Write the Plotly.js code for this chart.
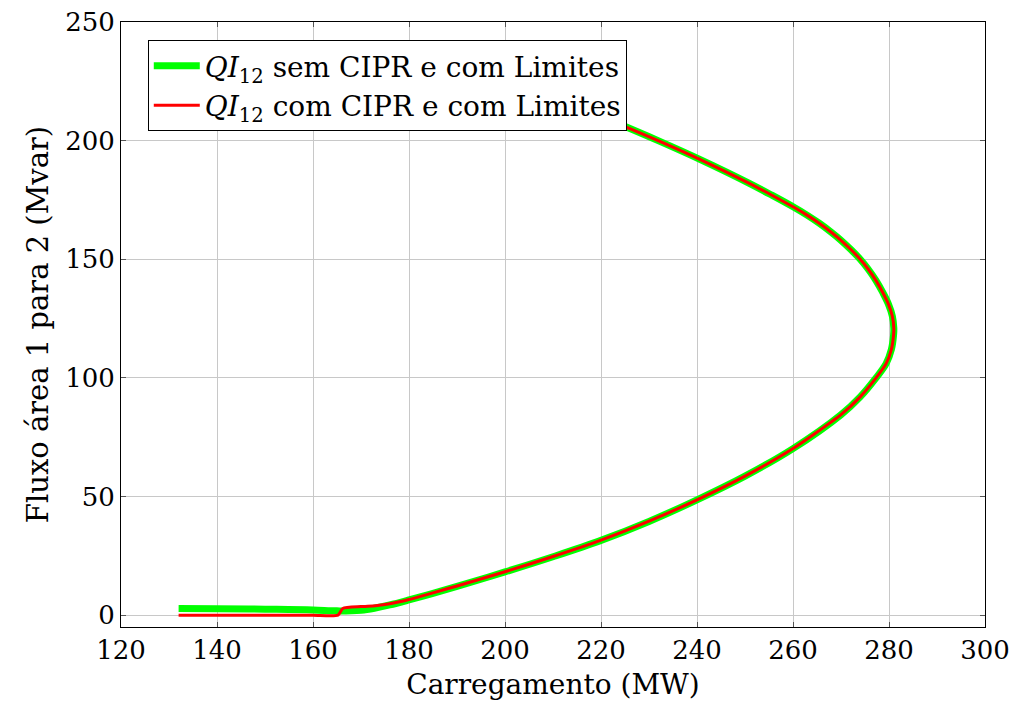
<!DOCTYPE html>
<html>
<head>
<meta charset="utf-8">
<script src="https://cdn.plot.ly/plotly-3.0.1.min.js"></script>
<style>
  html, body { margin: 0; padding: 0; background: #fff; }
  #chart { width: 1014px; height: 709px; }
</style>
</head>
<body>
<div id="chart"></div>
<script>
// Reactive power flow from area 1 to area 2 versus system loading
const semCiprX = [132, 140, 150, 160, 165, 170, 173, 176, 180, 185, 190, 200, 210, 220, 230, 240, 250, 260, 270, 274, 277.3, 279.4, 280.5, 280.95, 281, 280.7, 279.9, 278.7, 277.3, 275.6, 274, 272.1, 270, 267.9, 265.6, 263, 260.1, 255.6, 250.9, 240.7, 231.9, 223.8, 215.4, 205.5];
const semCiprY = [2.8, 2.7, 2.5, 2.2, 1.8, 2.1, 3.0, 4.3, 6.4, 9.2, 12.1, 18.2, 24.6, 31.5, 39.5, 48.6, 58.6, 70.2, 84.5, 92, 100, 106, 112, 118, 121, 126, 131, 136, 141, 146, 150, 154, 158, 161.5, 165, 168.5, 172, 177, 182, 192, 200, 207, 214, 222];

const comCiprX = [132, 140, 150, 160, 165.2, 166.2, 170, 173, 176, 180, 185, 190, 200, 210, 220, 230, 240, 250, 260, 270, 274, 277.3, 279.4, 280.5, 280.95, 281, 280.7, 279.9, 278.7, 277.3, 275.6, 274, 272.1, 270, 267.9, 265.6, 263, 260.1, 255.6, 250.9, 240.7, 231.9, 223.8, 215.4, 205.5];
const comCiprY = [0, 0, 0, 0, 0, 2.8, 3.6, 4.0, 4.8, 6.6, 9.4, 12.3, 18.3, 24.7, 31.6, 39.6, 48.6, 58.6, 70.2, 84.5, 92, 100, 106, 112, 118, 121, 126, 131, 136, 141, 146, 150, 154, 158, 161.5, 165, 168.5, 172, 177, 182, 192, 200, 207, 214, 222];

const xTicks = [120, 140, 160, 180, 200, 220, 240, 260, 280, 300];
const yTicks = [0, 50, 100, 150, 200, 250];

const serif = 'DejaVu Serif, Liberation Serif, serif';

const traces = [
  {
    x: semCiprX, y: semCiprY, type: 'scatter', mode: 'lines',
    name: '<i>QI</i><sub>12</sub> sem CIPR e com Limites',
    line: { color: '#00ff00', width: 7, shape: 'spline', smoothing: 1 }
  },
  {
    x: comCiprX, y: comCiprY, type: 'scatter', mode: 'lines',
    name: '<i>QI</i><sub>12</sub> com CIPR e com Limites',
    line: { color: '#ff0000', width: 3, shape: 'spline', smoothing: 0.6 }
  }
];

const axisCommon = {
  showline: true, linecolor: '#000', linewidth: 1, mirror: 'ticks',
  ticks: 'inside', ticklen: 5, tickcolor: '#555', tickwidth: 1,
  showgrid: true, gridcolor: '#c8c8c8', gridwidth: 1,
  zeroline: false,
  tickfont: { family: serif, size: 26, color: '#000' }
};

const layout = {
  width: 1014, height: 709,
  margin: { l: 121, r: 29, t: 22, b: 82 },
  paper_bgcolor: '#fff', plot_bgcolor: '#fff',
  font: { family: serif, color: '#000' },
  showlegend: true,
  xaxis: Object.assign({}, axisCommon, {
    range: [120, 300], tickvals: xTicks, ticktext: xTicks.map(String),
    title: { text: 'Carregamento (MW)', font: { family: serif, size: 28, color: '#000' }, standoff: 10 }
  }),
  yaxis: Object.assign({}, axisCommon, {
    range: [-5, 250], tickvals: yTicks, ticktext: yTicks.map(String),
    title: { text: 'Fluxo área 1 para 2 (Mvar)', font: { family: serif, size: 29, color: '#000' }, standoff: 8 }
  }),
  legend: {
    x: 0.031, y: 0.97, xanchor: 'left', yanchor: 'top',
    bgcolor: '#fff', bordercolor: '#000', borderwidth: 1,
    font: { family: serif, size: 28, color: '#000' },
    itemwidth: 46, tracegroupgap: 0
  }
};

Plotly.newPlot('chart', traces, layout, { displayModeBar: false, staticPlot: true });
</script>
</body>
</html>
